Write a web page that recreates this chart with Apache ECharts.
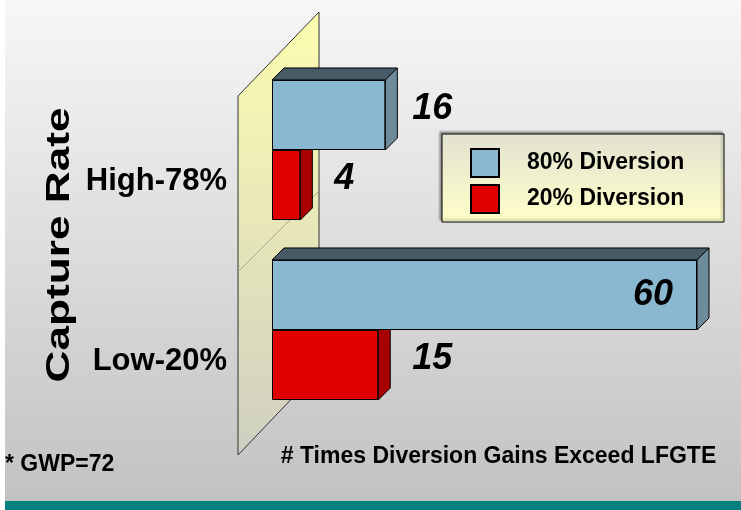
<!DOCTYPE html>
<html>
<head>
<meta charset="utf-8">
<script src="https://cdn.jsdelivr.net/npm/echarts@6/dist/echarts.min.js"></script>
<style>
  html, body { margin: 0; padding: 0; background: #fff; }
  #main { width: 741px; height: 510px; }
</style>
</head>
<body>
<div id="main"></div>
<script>
// data
var categories = ["High-78%", "Low-20%"];
var seriesNames = ["80% Diversion", "20% Diversion"];
var div80 = [16, 60];
var div20 = [4, 15];

var FONT = "Arial, 'Liberation Sans', sans-serif";
var BAR_RATIO = 0.389; // bar width / category band
var DEPTH = 12;

var faceColors = [
  { front: "#8ab8d0", top: "#475b67", side: "#6e8b9b" },
  { front: "#e00000", top: "#7a0000", side: "#a80000" },
];

// front bar + labels
function makeBar(name, values, idx, labelDist) {
  return {
    name: name,
    type: "bar",
    z: 3,
    barWidth: (BAR_RATIO * 100).toFixed(1) + "%",
    barGap: "0%",
    itemStyle: {
      color: faceColors[idx].front,
      borderColor: "#000",
      borderWidth: 1,
    },
    label: {
      show: true,
      position: "right",
      distance: labelDist,
      offset: [0, -6],
      color: "#000",
      fontFamily: FONT,
      fontSize: 36,
      fontWeight: "bold",
      fontStyle: "italic",
    },
    data: values.map(function (v) {
      if (v > 40) {
        // long bar: value sits inside the bar end
        return { value: v, label: { position: "insideRight", distance: 24, offset: [0, 0] } };
      }
      return v;
    }),
  };
}

// top and right faces of the 3d bar
function makeDepth(values, idx) {
  return {
    name: seriesNames[idx] + " depth",
    type: "custom",
    z: 1,
    silent: true,
    encode: { x: 0, y: 1 },
    data: values.map(function (v, i) {
      return [v, i];
    }),
    renderItem: function (params, api) {
      var val = api.value(0);
      var cat = api.value(1);
      var start = api.coord([0, cat]);
      var end = api.coord([val, cat]);
      var bw = api.size([0, 1])[1] * BAR_RATIO;
      var y0 = end[1] - bw + idx * bw;
      var y1 = y0 + bw;
      var x0 = start[0];
      var x1 = end[0];
      var d = DEPTH;
      var line = { stroke: "#000", lineWidth: 1 };
      return {
        type: "group",
        children: [
          {
            type: "polygon",
            shape: { points: [[x0, y0], [x1, y0], [x1 + d, y0 - d], [x0 + d, y0 - d]] },
            style: Object.assign({ fill: faceColors[idx].top }, line),
          },
          {
            type: "polygon",
            shape: { points: [[x1, y0], [x1 + d, y0 - d], [x1 + d, y1 - d], [x1, y1]] },
            style: Object.assign({ fill: faceColors[idx].side }, line),
          },
        ],
      };
    },
  };
}

var myChart = echarts.init(document.getElementById("main"));

var option = {
  animation: false,
  textStyle: { fontFamily: FONT },
  grid: {
    left: 272,
    right: 44,
    top: 60,
    bottom: 90,
    outerBoundsMode: "none",
  },
  legend: {
    data: seriesNames,
    orient: "vertical",
    left: 470,
    top: 148,
    padding: 0,
    itemWidth: 28,
    itemHeight: 28,
    itemGap: 6,
    icon: "rect",
    selectedMode: false,
    textStyle: {
      color: "#000",
      fontFamily: FONT,
      fontSize: 23,
      fontWeight: "bold",
      padding: [0, 0, 12, 23],
    },
  },
  xAxis: {
    type: "value",
    min: 0,
    max: 60,
    axisLine: { show: false },
    axisTick: { show: false },
    axisLabel: { show: false },
    splitLine: { show: false },
    name: "# Times Diversion Gains Exceed LFGTE",
    nameLocation: "middle",
    nameGap: 25,
    nameTextStyle: {
      color: "#000",
      fontFamily: FONT,
      fontSize: 23,
      fontWeight: "bold",
      padding: [0, 0, 0, 28],
    },
  },
  yAxis: {
    type: "category",
    inverse: true,
    data: categories,
    axisLine: { show: false },
    axisTick: { show: false },
    splitLine: { show: false },
    axisLabel: {
      margin: 45,
      color: "#000",
      fontFamily: FONT,
      fontSize: 31,
      fontWeight: "bold",
      // labels sit level with the front (red) bar, below the band centre
      verticalAlign: "top",
      lineHeight: 62,
    },
  },
  graphic: [
    {
      // slide background
      type: "rect",
      z: -20,
      silent: true,
      shape: { x: 5, y: 0, width: 736, height: 501 },
      style: {
        fill: new echarts.graphic.LinearGradient(0, 0, 0, 1, [
          { offset: 0, color: "#f7f7f7" },
          { offset: 1, color: "#c2c2c2" },
        ]),
      },
    },
    {
      type: "rect",
      z: -20,
      silent: true,
      shape: { x: 5, y: 501, width: 736, height: 9 },
      style: { fill: "#00807f" },
    },
    {
      // 3d back wall
      type: "polygon",
      z: -10,
      silent: true,
      shape: { points: [[238, 96], [319, 12], [319, 370], [238, 455]] },
      style: {
        fill: new echarts.graphic.LinearGradient(0, 0, 0, 1, [
          { offset: 0, color: "#fdfdb0" },
          { offset: 1, color: "#cfcfc2" },
        ]),
        stroke: "#333",
        lineWidth: 1,
      },
    },
    {
      type: "line",
      z: -9,
      silent: true,
      shape: { x1: 319, y1: 191, x2: 238, y2: 272 },
      style: { stroke: "#a8a890", lineWidth: 1 },
    },
    {
      // legend box
      type: "rect",
      z: -5,
      silent: true,
      shape: { x: 442, y: 134, width: 282, height: 88 },
      style: {
        fill: new echarts.graphic.LinearGradient(0, 0, 0, 1, [
          { offset: 0, color: "#e2e2d2" },
          { offset: 1, color: "#ffffc8" },
        ]),
        stroke: "#000",
        lineWidth: 1,
        shadowColor: "rgba(0,0,0,0.35)",
        shadowBlur: 2,
        shadowOffsetX: -2,
        shadowOffsetY: -2,
      },
    },
    {
      type: "text",
      silent: true,
      x: 60,
      y: 245,
      rotation: Math.PI / 2,
      scaleX: 1.3,
      style: {
        text: "Capture Rate",
        font: "bold 34px " + FONT,
        fill: "#000",
        align: "center",
        verticalAlign: "middle",
        textAlign: "center",
        textVerticalAlign: "middle",
      },
    },
    {
      type: "text",
      silent: true,
      x: 5,
      y: 465,
      style: {
        text: "* GWP=72",
        font: "bold 23px " + FONT,
        fill: "#000",
        verticalAlign: "middle",
        textVerticalAlign: "middle",
      },
    },
  ],
  series: [
    makeDepth(div80, 0),
    makeDepth(div20, 1),
    makeBar(seriesNames[0], div80, 0, 27),
    makeBar(seriesNames[1], div20, 1, 34),
  ],
};

myChart.setOption(option);
window.onresize = myChart.resize;
</script>
</body>
</html>
